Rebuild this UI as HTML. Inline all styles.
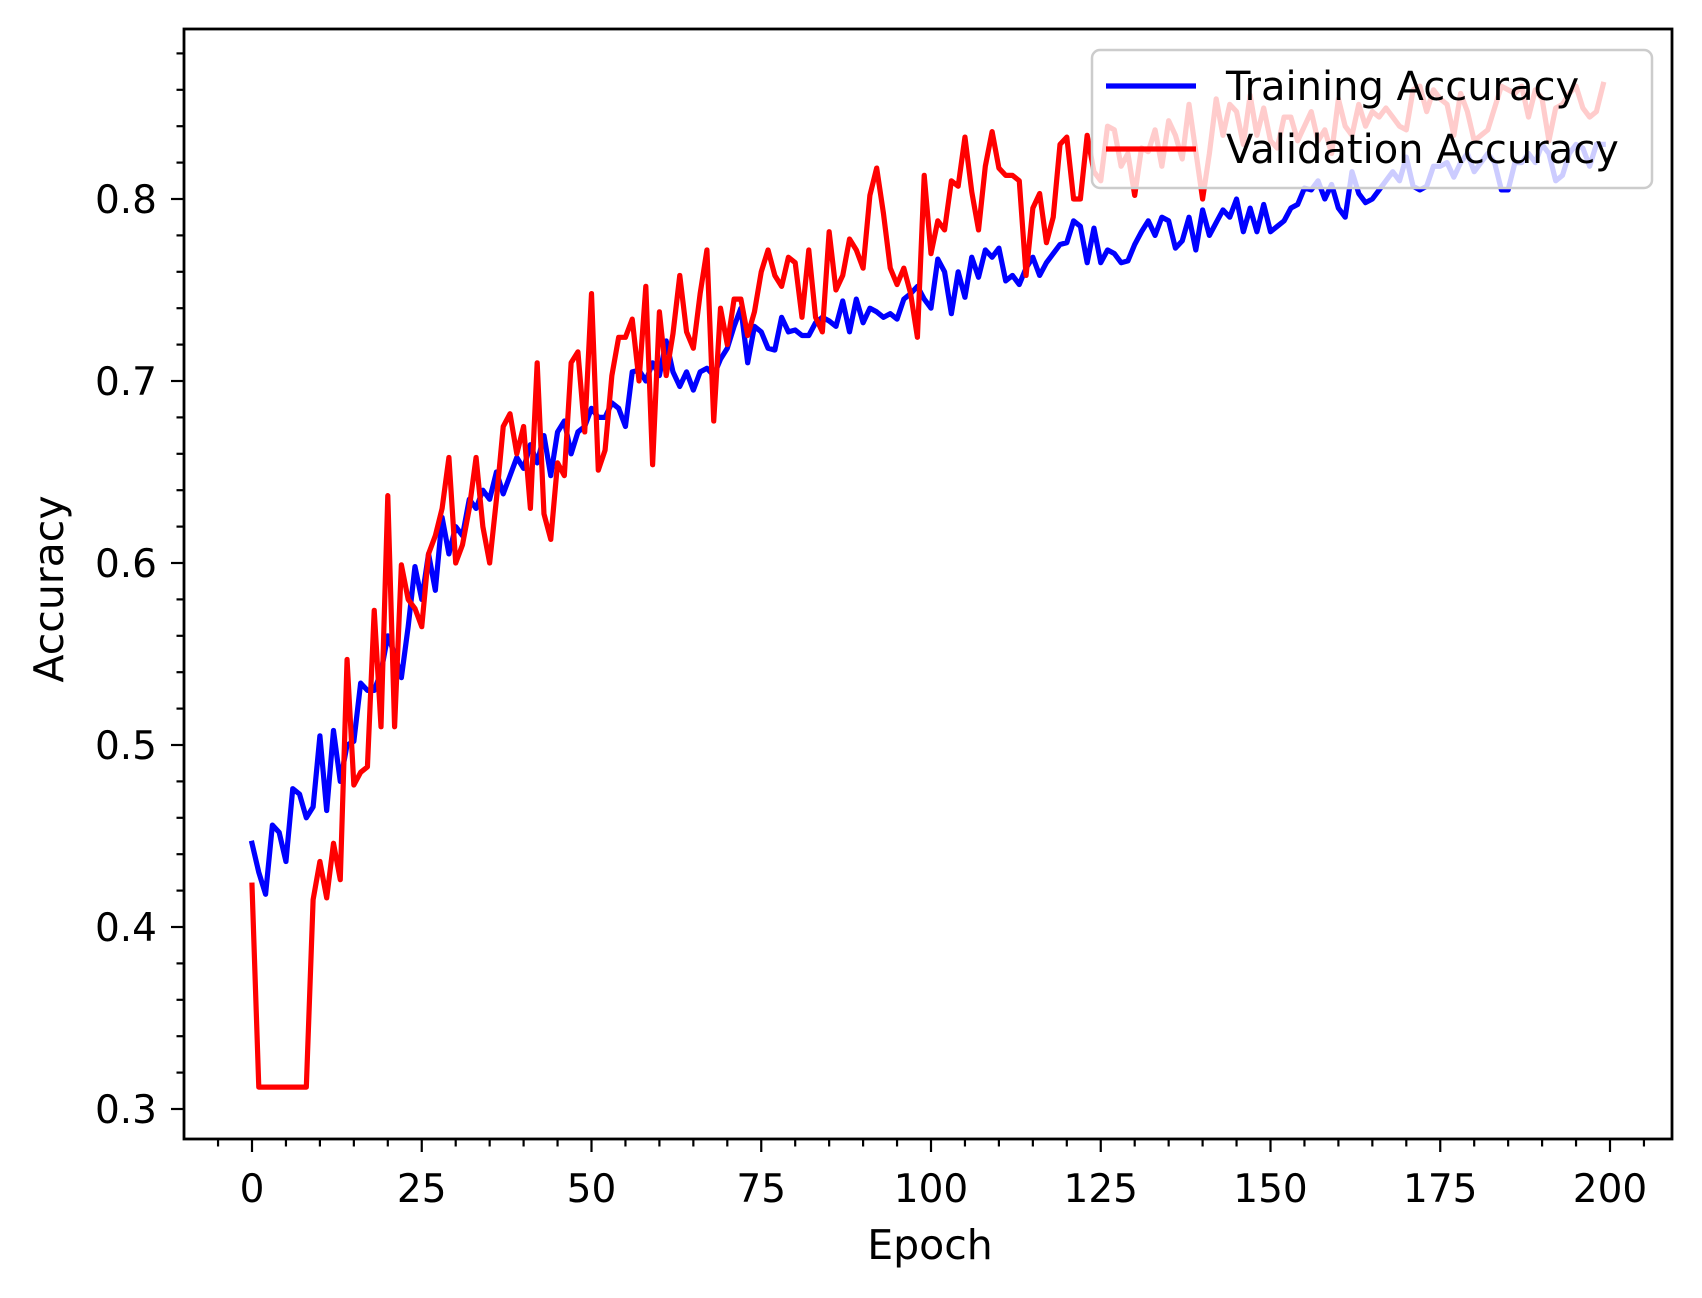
<!DOCTYPE html>
<html><head><meta charset="utf-8"><style>
html,body{margin:0;padding:0;background:#fff}
svg{display:block}
text{font-family:"DejaVu Sans","Liberation Sans",sans-serif;fill:#000}
</style></head><body>
<svg id="chart" width="1702" height="1298" viewBox="0 0 1702 1298" xmlns="http://www.w3.org/2000/svg">
<rect width="1702" height="1298" fill="#fff"/>
<g id="plot"></g>
<g id="axes"></g>
<g id="legend"></g>
<text x="930" y="1259" font-size="41" text-anchor="middle">Epoch</text>
<text x="0" y="0" font-size="41" text-anchor="middle" transform="translate(63,589) rotate(-90)">Accuracy</text>
</svg>
<script>
const xTicks = [0, 25, 50, 75, 100, 125, 150, 175, 200];
const yTicks = [0.3, 0.4, 0.5, 0.6, 0.7, 0.8];
const yTickLabels = ["0.3", "0.4", "0.5", "0.6", "0.7", "0.8"];
const trainAcc = [0.446,0.43,0.418,0.456,0.452,0.436,0.476,0.473,0.46,0.466,0.505,0.464,0.508,0.48,0.5,0.502,0.534,0.53,0.53,0.54,0.56,0.55,0.537,0.565,0.598,0.58,0.605,0.585,0.625,0.605,0.62,0.615,0.635,0.63,0.64,0.635,0.65,0.638,0.648,0.658,0.652,0.665,0.655,0.67,0.648,0.672,0.678,0.66,0.672,0.675,0.685,0.68,0.68,0.688,0.685,0.675,0.705,0.706,0.7,0.71,0.703,0.722,0.705,0.697,0.705,0.695,0.705,0.707,0.703,0.712,0.718,0.73,0.74,0.71,0.73,0.727,0.718,0.717,0.735,0.727,0.728,0.725,0.725,0.732,0.735,0.733,0.73,0.744,0.727,0.745,0.732,0.74,0.738,0.735,0.737,0.734,0.745,0.748,0.752,0.745,0.74,0.767,0.76,0.737,0.76,0.746,0.768,0.757,0.772,0.768,0.773,0.755,0.758,0.753,0.762,0.768,0.758,0.765,0.77,0.775,0.776,0.788,0.785,0.765,0.784,0.765,0.772,0.77,0.765,0.766,0.775,0.782,0.788,0.78,0.79,0.788,0.773,0.777,0.79,0.772,0.794,0.78,0.787,0.794,0.79,0.8,0.782,0.795,0.782,0.797,0.782,0.785,0.788,0.795,0.797,0.806,0.805,0.81,0.8,0.808,0.795,0.79,0.815,0.803,0.798,0.8,0.805,0.81,0.815,0.81,0.823,0.807,0.805,0.807,0.818,0.818,0.82,0.812,0.82,0.825,0.815,0.82,0.825,0.82,0.805,0.805,0.82,0.82,0.825,0.82,0.83,0.825,0.81,0.813,0.825,0.83,0.828,0.818,0.83,0.83];
const valAcc = [0.423,0.312,0.312,0.312,0.312,0.312,0.312,0.312,0.312,0.415,0.436,0.416,0.446,0.426,0.547,0.478,0.485,0.488,0.574,0.51,0.637,0.51,0.599,0.58,0.575,0.565,0.605,0.615,0.63,0.658,0.6,0.61,0.63,0.658,0.62,0.6,0.635,0.675,0.682,0.66,0.675,0.63,0.71,0.627,0.613,0.655,0.648,0.71,0.716,0.672,0.748,0.651,0.662,0.703,0.724,0.724,0.734,0.7,0.752,0.654,0.738,0.703,0.726,0.758,0.727,0.718,0.748,0.772,0.678,0.74,0.72,0.745,0.745,0.725,0.738,0.76,0.772,0.758,0.752,0.768,0.765,0.735,0.772,0.735,0.727,0.782,0.75,0.758,0.778,0.772,0.762,0.802,0.817,0.792,0.762,0.753,0.762,0.748,0.724,0.813,0.77,0.788,0.783,0.81,0.807,0.834,0.804,0.783,0.818,0.837,0.817,0.813,0.813,0.81,0.758,0.795,0.803,0.776,0.79,0.83,0.834,0.8,0.8,0.835,0.815,0.81,0.84,0.838,0.818,0.825,0.802,0.828,0.826,0.838,0.818,0.843,0.835,0.822,0.852,0.826,0.8,0.825,0.855,0.835,0.852,0.848,0.83,0.857,0.835,0.85,0.832,0.828,0.845,0.845,0.832,0.84,0.848,0.832,0.838,0.825,0.855,0.84,0.835,0.852,0.84,0.848,0.845,0.85,0.845,0.84,0.838,0.86,0.862,0.848,0.86,0.855,0.852,0.835,0.858,0.848,0.832,0.835,0.838,0.85,0.862,0.86,0.858,0.862,0.845,0.86,0.855,0.832,0.85,0.852,0.858,0.862,0.85,0.845,0.848,0.863];

const NS = "http://www.w3.org/2000/svg";
const L = 184, R = 1672, T = 29, B = 1139;
const x0px = 252, xPer = 6.79;
const y08 = 199, yPer = 1820;
function xs(e){ return x0px + e * xPer; }
function ys(v){ return y08 - (v - 0.8) * yPer; }
function mk(tag, attrs, parent){
  const el = document.createElementNS(NS, tag);
  for (const k in attrs) el.setAttribute(k, attrs[k]);
  parent.appendChild(el);
  return el;
}
const plot = document.getElementById('plot');
const axes = document.getElementById('axes');
const legend = document.getElementById('legend');

function series(data, color, name){
  const pts = data.map((v,i)=>xs(i).toFixed(2)+','+ys(v).toFixed(2)).join(' ');
  const pl = mk('polyline', {points: pts, fill:'none', stroke:color, 'stroke-width':5.2, 'stroke-linejoin':'round', 'stroke-linecap':'square'}, plot);
  
  
}
series(trainAcc, '#0000ff', 'training-accuracy-line');
series(valAcc, '#ff0000', 'validation-accuracy-line');

const frame = mk('rect', {x:L, y:T, width:R-L, height:B-T, fill:'none', stroke:'#000', 'stroke-width':2.8}, axes);



for (let i = -5; i <= 205; i += 5){
  const px = xs(i);
  if (px < L || px > R) continue;
  const major = i % 25 === 0;
  const t = mk('line', {x1:px, x2:px, y1:B, y2:B + (major?13:7.5), stroke:'#000', 'stroke-width':2.2}, axes);
  
  
}
xTicks.forEach(v=>{
  const t = mk('text', {x:xs(v), y:1202, 'font-size':39, 'text-anchor':'middle'}, axes);
  t.textContent = String(v);
  
  
});
for (let k = 14; k <= 44; k++){
  const v = k / 50;
  const py = ys(v);
  if (py < T || py > B) continue;
  const major = k % 5 === 0;
  const t = mk('line', {x1:L, x2:L - (major?13:7.5), y1:py, y2:py, stroke:'#000', 'stroke-width':2.2}, axes);
  
  
}
yTicks.forEach((v,i)=>{
  const t = mk('text', {x:157, y:ys(v)+14, 'font-size':39, 'text-anchor':'end'}, axes);
  t.textContent = yTickLabels[i];
  
  
});

const box = mk('rect', {x:1092, y:50, width:560, height:138, rx:8, fill:'#fff', 'fill-opacity':0.8, stroke:'#cccccc', 'stroke-width':2.5}, legend);


const entries = [['Training Accuracy','#0000ff',86,'legend-entry-training'],['Validation Accuracy','#ff0000',149,'legend-entry-validation']];
entries.forEach(e=>{
  const g = mk('g', {}, legend);
  
  
  mk('line', {x1:1106, x2:1196, y1:e[2], y2:e[2], stroke:e[1], 'stroke-width':5.2}, g);
  const t = mk('text', {x:1226, y:e[2]+14, 'font-size':40}, g);
  t.textContent = e[0];
});
</script>
</body></html>
